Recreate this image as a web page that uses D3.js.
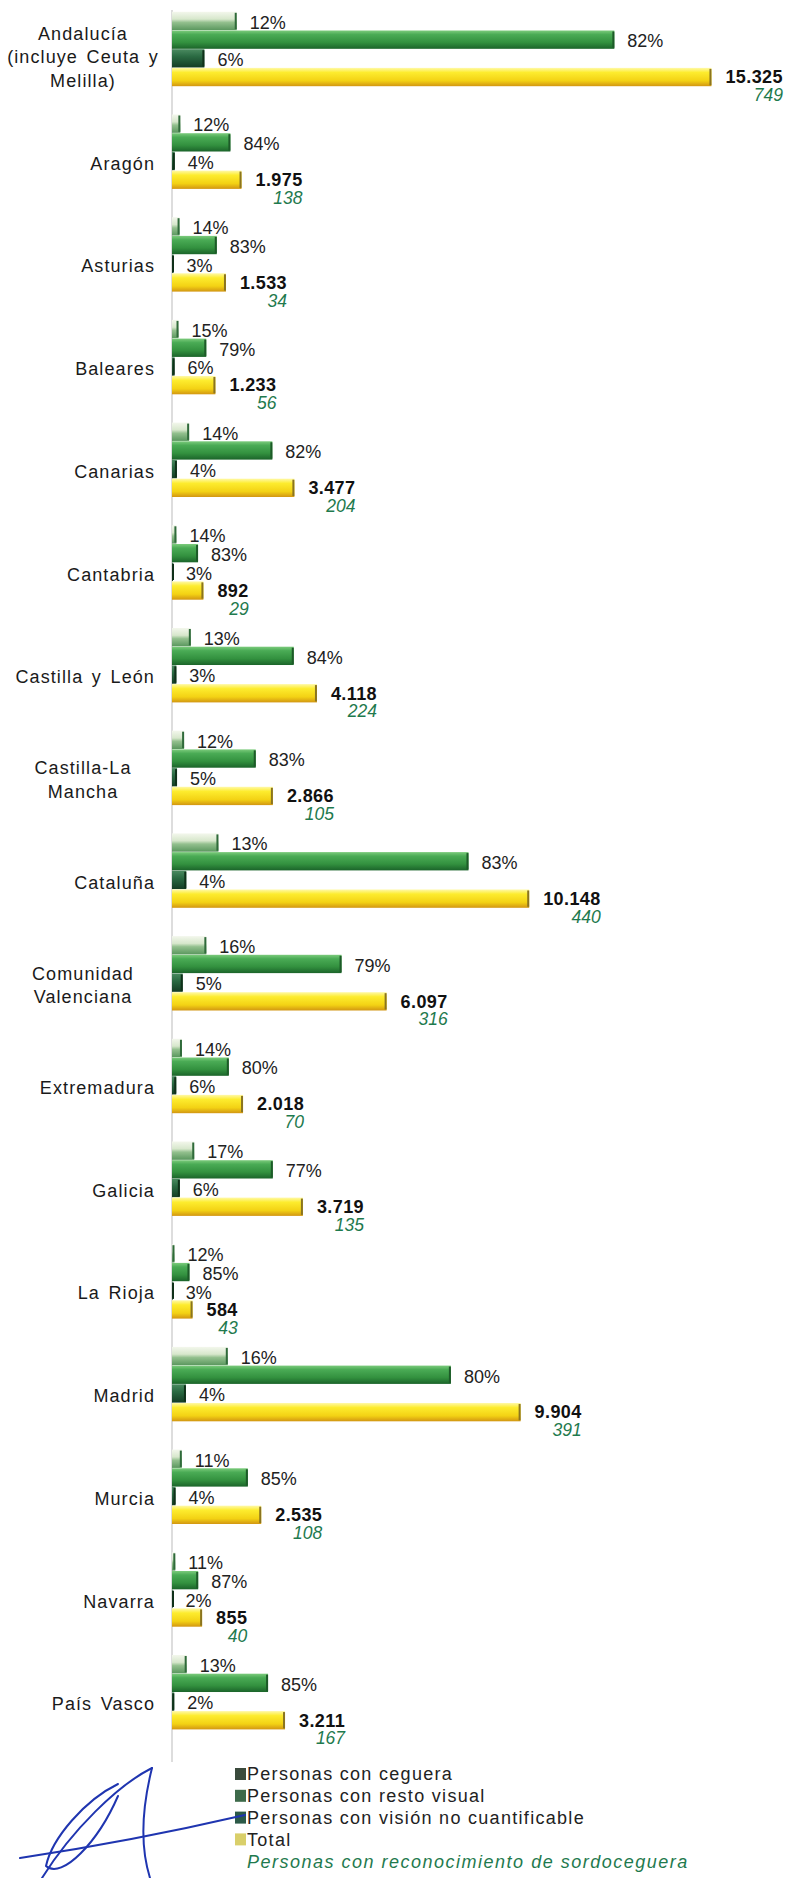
<!DOCTYPE html>
<html><head><meta charset="utf-8">
<script src="https://cdn.jsdelivr.net/npm/d3@7"></script>
<style>
html,body{margin:0;padding:0;background:#fff;}
svg{display:block;font-family:"Liberation Sans",Arial,sans-serif;}
</style></head><body>
<svg id="chart" width="791" height="1878"></svg>
<script>
// ---------- DATA ----------
const regions = ["Andalucía (incluye Ceuta y Melilla)","Aragón","Asturias","Baleares","Canarias","Cantabria","Castilla y León","Castilla-La Mancha","Cataluña","Comunidad Valenciana","Extremadura","Galicia","La Rioja","Madrid","Murcia","Navarra","País Vasco"];
const regionLines = [["Andalucía","(incluye Ceuta y","Melilla)"],["Aragón"],["Asturias"],["Baleares"],["Canarias"],["Cantabria"],["Castilla y León"],["Castilla-La","Mancha"],["Cataluña"],["Comunidad","Valenciana"],["Extremadura"],["Galicia"],["La Rioja"],["Madrid"],["Murcia"],["Navarra"],["País Vasco"]];
const pctCeguera  = [12,12,14,15,14,14,13,12,13,16,14,17,12,16,11,11,13];
const pctResto    = [82,84,83,79,82,83,84,83,83,79,80,77,85,80,85,87,85];
const pctNoCuant  = [6,4,3,6,4,3,3,5,4,5,6,6,3,4,4,2,2];
const countCeguera = [1839,237,215,185,487,125,535,344,1319,976,283,632,70,1585,279,94,417];
const countResto   = [12567,1659,1272,974,2851,740,3459,2379,8423,4817,1614,2864,496,7923,2155,744,2729];
const countNoCuant = [920,79,46,74,139,27,124,143,406,305,121,223,18,396,101,17,64];
const totals       = [15325,1975,1533,1233,3477,892,4118,2866,10148,6097,2018,3719,584,9904,2535,855,3211];
const sordoceguera = [749,138,34,56,204,29,224,105,440,316,70,135,43,391,108,40,167];
const seriesKeys  = ["ceguera","resto","nocuant","total"];
const seriesNames = ["Personas con ceguera","Personas con resto visual","Personas con visión no cuantificable","Total"];
const legendNote  = "Personas con reconocimiento de sordoceguera";

// ---------- STYLE ----------
const gradStops = {
  ceguera: [["0%","#f3f7ec"],["40%","#d7e7cc"],["58%","#93c08e"],["100%","#5a975e"]],
  resto:   [["0%","#7ccb7c"],["22%","#4aab55"],["65%","#33913f"],["100%","#1b642a"]],
  nocuant: [["0%","#4a8a60"],["40%","#2a6a42"],["100%","#143c24"]],
  total:   [["0%","#fff9a8"],["25%","#fdec2e"],["70%","#f3d214"],["100%","#d29612"]]
};
const capColor = {ceguera:"#2f6a3a", resto:"#1d5a28", nocuant:"#0f3019", total:"#8a7420"};
const legendFill = {ceguera:"#3a4a3c", resto:"#3d6a4a", nocuant:"#2c5a48", total:"#d9cf6a"};

const svg = d3.select("#chart");
const defs = svg.append("defs");
seriesKeys.forEach(k=>{
  const g = defs.append("linearGradient").attr("id","g-"+k).attr("x1",0).attr("y1",0).attr("x2",0).attr("y2",1);
  gradStops[k].forEach(s=>g.append("stop").attr("offset",s[0]).attr("stop-color",s[1]));
});

const locale = d3.formatLocale({decimal:",",thousands:".",grouping:[3],currency:["","€"]});
const fmt = locale.format(",d");

// ---------- SCALES ----------
const x = d3.scaleLinear().domain([0,16000]).range([172, 172 + 16000*0.0352]);
const y = d3.scaleBand().domain(regions).range([11.8, 11.8 + 17*102.7]).padding(0);
const inner = d3.scaleBand().domain(seriesKeys).range([0, 74.4]).paddingInner(0.02);

// axis line
svg.append("line").attr("x1",x(0)).attr("x2",x(0)).attr("y1",10).attr("y2",1762)
  .attr("stroke","#d2d2d2").attr("stroke-width",1.5);

const rows = regions.map((r,i)=>({
  region:r, lines:regionLines[i],
  bars:[
    {key:"ceguera", v:countCeguera[i], label:pctCeguera[i]+"%"},
    {key:"resto",   v:countResto[i],   label:pctResto[i]+"%"},
    {key:"nocuant", v:countNoCuant[i], label:pctNoCuant[i]+"%"},
    {key:"total",   v:totals[i],       label:fmt(totals[i]), sub:fmt(sordoceguera[i])}
  ]
}));

const grp = svg.selectAll("g.region").data(rows).join("g").attr("class","region")
  .attr("transform",d=>`translate(0,${y(d.region)})`);

// bars
const bar = grp.selectAll("g.bar").data(d=>d.bars).join("g").attr("class","bar");
bar.append("rect")
  .attr("x",x(0)).attr("y",d=>inner(d.key))
  .attr("width",d=>Math.max(0,x(d.v)-x(0))).attr("height",inner.bandwidth())
  .attr("fill",d=>`url(#g-${d.key})`);
bar.append("rect")
  .attr("x",d=>Math.max(x(0), x(d.v)-2)).attr("y",d=>inner(d.key)+1)
  .attr("width",2).attr("height",inner.bandwidth()-2)
  .attr("fill",d=>capColor[d.key]);

// percentage labels
bar.filter(d=>d.key!=="total").append("text")
  .attr("x",d=>x(d.v)+13).attr("y",d=>inner(d.key)+inner.bandwidth()/2+1.5)
  .attr("dy","0.35em").attr("font-size",18).attr("fill","#222")
  .text(d=>d.label);

// total labels
const tot = bar.filter(d=>d.key==="total");
tot.each(function(d){
  const g = d3.select(this);
  const t = g.append("text")
    .attr("x",x(d.v)+14).attr("y",inner(d.key)+inner.bandwidth()/2)
    .attr("dy","0.35em").attr("font-size",18).attr("font-weight","bold").attr("fill","#111")
    .attr("letter-spacing",0.4)
    .text(d.label);
  const w = t.node().getComputedTextLength();
  g.append("text")
    .attr("x",x(d.v)+14+w).attr("y",inner(d.key)+inner.bandwidth()/2+18)
    .attr("dy","0.35em").attr("text-anchor","end").attr("font-size",17.5)
    .attr("font-style","italic").attr("fill","#1f7a4e")
    .text(d.sub);
});

// region labels
grp.each(function(d){
  const g = d3.select(this);
  const n = d.lines.length;
  d.lines.forEach((ln,j)=>{
    g.append("text")
      .attr("x", n===1 ? 155 : 83)
      .attr("text-anchor", n===1 ? "end" : "middle")
      .attr("y", (n===3 ? 45 : 49) + (j-(n-1)/2)*23.5)
      .attr("dy","0.35em").attr("font-size",18).attr("letter-spacing",1.1)
      .attr("word-spacing",2.5).attr("fill","#1a1a1a")
      .text(ln);
  });
});

// legend
const lg = svg.append("g").attr("transform","translate(235,1774)");
const li = lg.selectAll("g").data(seriesKeys).join("g").attr("transform",(d,i)=>`translate(0,${i*21.8})`);
li.append("rect").attr("x",0).attr("y",-6).attr("width",11).attr("height",12).attr("fill",d=>legendFill[d]);
li.append("text").attr("x",12).attr("y",0).attr("dy","0.35em").attr("font-size",18)
  .attr("letter-spacing",1.3).attr("fill","#222").text((d,i)=>seriesNames[i]);
lg.append("text").attr("x",12).attr("y",4*21.8).attr("dy","0.35em").attr("font-size",18)
  .attr("font-style","italic").attr("letter-spacing",1.5).attr("fill","#1f7a4e").text(legendNote);

// decorative handwritten signature (scan artifact, not data)
const sig = svg.append("g").attr("fill","none").attr("stroke","#1f35b0").attr("stroke-width",2).attr("stroke-linecap","round");
["M42 1878 C72 1830 118 1785 152 1768",
 "M152 1768 C144 1800 138 1840 150 1878",
 "M118 1784 C85 1800 52 1838 46 1866 C62 1880 98 1842 118 1796",
 "M20 1858 C100 1846 180 1830 245 1815"].forEach(p=>sig.append("path").attr("d",p));
</script>
</body></html>
